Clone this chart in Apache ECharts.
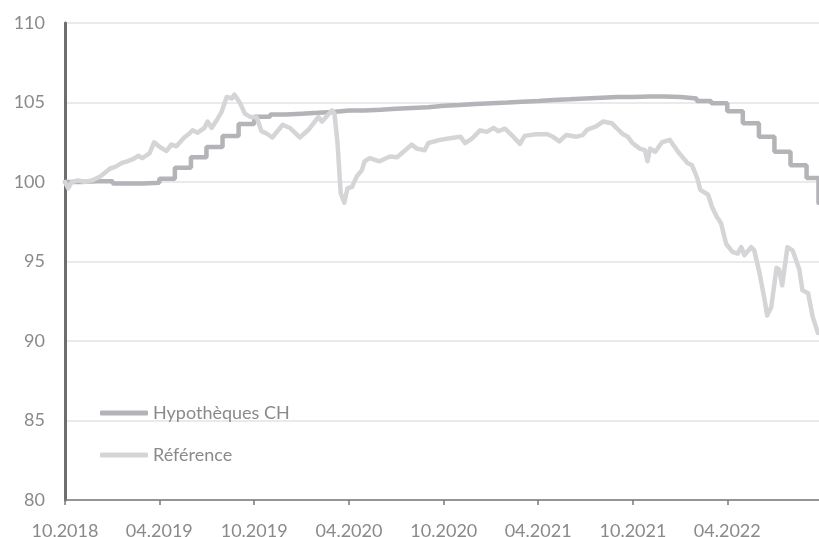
<!DOCTYPE html>
<html>
<head>
<meta charset="utf-8">
<script src="https://cdn.jsdelivr.net/npm/echarts@6/dist/echarts.min.js"></script>
<style>
  html, body { margin: 0; padding: 0; background: #fff; }
  #chart { width: 819px; height: 537px; }
</style>
</head>
<body>
<div id="chart"></div>
<script>
// x axis ticks
const tickDates = ['2018-10-01', '2019-04-01', '2019-10-01', '2020-04-01', '2020-10-01', '2021-04-01', '2021-10-01', '2022-04-01'];
const tickLabels = ['10.2018', '04.2019', '10.2019', '04.2020', '10.2020', '04.2021', '10.2021', '04.2022'];

// Hypothèques CH (monthly, stepped)
const hypDates = [
  '2018-10-01', '2018-11-01', '2018-12-01', '2019-01-01', '2019-02-01', '2019-03-01',
  '2019-04-01', '2019-05-01', '2019-06-01', '2019-07-01', '2019-08-01', '2019-09-01',
  '2019-10-01', '2019-11-01', '2019-12-01', '2020-01-01', '2020-02-01', '2020-03-01',
  '2020-04-01', '2020-05-01', '2020-06-01', '2020-07-01', '2020-08-01', '2020-09-01',
  '2020-10-01', '2020-11-01', '2020-12-01', '2021-01-01', '2021-02-01', '2021-03-01',
  '2021-04-01', '2021-05-01', '2021-06-01', '2021-07-01', '2021-08-01', '2021-09-01',
  '2021-10-01', '2021-11-01', '2021-12-01', '2022-01-01', '2022-02-01', '2022-03-01',
  '2022-04-01', '2022-05-01', '2022-06-01', '2022-07-01', '2022-08-01', '2022-09-01',
  '2022-09-24'
];
const hypValues = [
  100.0, 100.05, 100.05, 99.9, 99.9, 99.95,
  100.2, 100.9, 101.55, 102.2, 102.9, 103.65,
  104.1, 104.25, 104.3, 104.35, 104.4, 104.5,
  104.5, 104.55, 104.6, 104.65, 104.7, 104.8,
  104.85, 104.9, 104.95, 105.0, 105.05, 105.1,
  105.15, 105.2, 105.25, 105.3, 105.35, 105.35,
  105.37, 105.37, 105.35, 105.25, 105.1, 104.95,
  104.45, 103.7, 102.85, 101.9, 101.05, 100.25,
  98.7
];

// Référence
const refDates = [
  '2018-10-01', '2018-10-07', '2018-10-14', '2018-10-26', '2018-11-09', '2018-11-22',
  '2018-12-08', '2018-12-27', '2019-01-06', '2019-01-19', '2019-01-29', '2019-02-10',
  '2019-02-20', '2019-02-27', '2019-03-13', '2019-03-22', '2019-04-02', '2019-04-15',
  '2019-04-24', '2019-05-04', '2019-05-19', '2019-05-29', '2019-06-04', '2019-06-14',
  '2019-06-27', '2019-07-03', '2019-07-11', '2019-07-20', '2019-07-30', '2019-08-09',
  '2019-08-19', '2019-08-24', '2019-09-04', '2019-09-13', '2019-09-23', '2019-10-06',
  '2019-10-15', '2019-10-25', '2019-11-05', '2019-11-25', '2019-12-09', '2019-12-28',
  '2020-01-13', '2020-01-26', '2020-02-02', '2020-02-09', '2020-02-28', '2020-03-04',
  '2020-03-10', '2020-03-16', '2020-03-23', '2020-03-29', '2020-04-07', '2020-04-16',
  '2020-04-26', '2020-05-01', '2020-05-11', '2020-05-30', '2020-06-19', '2020-07-02',
  '2020-07-08', '2020-07-31', '2020-08-10', '2020-08-25', '2020-09-01', '2020-09-24',
  '2020-10-13', '2020-11-02', '2020-11-11', '2020-11-25', '2020-12-10', '2020-12-23',
  '2021-01-05', '2021-01-14', '2021-01-27', '2021-02-12', '2021-02-25', '2021-03-06',
  '2021-03-28', '2021-04-19', '2021-04-29', '2021-05-12', '2021-05-25', '2021-06-14',
  '2021-06-26', '2021-07-05', '2021-07-22', '2021-08-04', '2021-08-21', '2021-08-30',
  '2021-09-12', '2021-09-21', '2021-09-30', '2021-10-14', '2021-10-24', '2021-10-29',
  '2021-11-03', '2021-11-13', '2021-11-26', '2021-12-11', '2021-12-27', '2022-01-14',
  '2022-01-23', '2022-02-02', '2022-02-08', '2022-02-23', '2022-03-03', '2022-03-12',
  '2022-03-20', '2022-03-26', '2022-03-30', '2022-04-11', '2022-04-21', '2022-04-28',
  '2022-05-04', '2022-05-17', '2022-05-23', '2022-06-02', '2022-06-12', '2022-06-17',
  '2022-06-25', '2022-07-05', '2022-07-10', '2022-07-16', '2022-07-26', '2022-08-05',
  '2022-08-18', '2022-08-24', '2022-09-04', '2022-09-13', '2022-09-23'
];
const refValues = [
  100.0, 99.6, 100.0, 100.1, 100.0, 100.1,
  100.35, 100.85, 100.95, 101.2, 101.3, 101.45,
  101.65, 101.5, 101.8, 102.5, 102.2, 101.95,
  102.35, 102.25, 102.8, 103.05, 103.25, 103.1,
  103.4, 103.8, 103.4, 103.85, 104.4, 105.35,
  105.25, 105.5, 104.95, 104.3, 104.1, 104.05,
  103.2, 103.05, 102.8, 103.6, 103.4, 102.8,
  103.25, 103.8, 104.1, 103.8, 104.5, 104.3,
  102.4, 99.3, 98.7, 99.6, 99.7, 100.35,
  100.75, 101.3, 101.5, 101.3, 101.6, 101.55,
  101.7, 102.35, 102.1, 102.0, 102.45, 102.65,
  102.75, 102.85, 102.45, 102.75, 103.25, 103.15,
  103.4, 103.2, 103.35, 102.85, 102.4, 102.9,
  103.0, 103.0, 102.85, 102.55, 102.95, 102.85,
  102.95, 103.3, 103.5, 103.8, 103.7, 103.4,
  103.0, 102.85, 102.45, 102.1, 102.0, 101.3,
  102.1, 101.9, 102.5, 102.65, 101.9, 101.2,
  101.05, 100.25, 99.5, 99.2, 98.4, 97.8,
  97.4, 96.6, 96.1, 95.6, 95.5, 95.9,
  95.4, 95.9, 95.7, 94.3, 92.6, 91.6,
  92.15, 94.6, 94.5, 93.5, 95.9, 95.7,
  94.5, 93.2, 93.0, 91.5, 90.5
];

const textColor = '#8a8a8a';
const fontFamily = 'Lato, "Open Sans", sans-serif';

const toTime = d => +echarts.time.parse(d);
const tickTimes = tickDates.map(toTime);

const chartDom = document.getElementById('chart');
const chart = echarts.init(chartDom, null, { renderer: 'canvas' });

chart.setOption({
  animation: false,
  textStyle: { fontFamily: fontFamily },
  grid: { left: 65, right: 0, top: 23, bottom: 37, outerBoundsMode: 'none' },
  legend: {
    orient: 'vertical',
    left: 100,
    top: 404,
    padding: 0,
    itemWidth: 48,
    itemHeight: 5,
    itemGap: 24,
    icon: 'roundRect',
    textStyle: { color: textColor, fontSize: 18, fontFamily: fontFamily },
    data: ['Hypothèques CH', 'Référence']
  },
  xAxis: {
    type: 'value',
    min: toTime('2018-10-01'),
    max: toTime('2022-09-25'),
    axisLine: { lineStyle: { color: '#7a7a7a', width: 1.5 } },
    axisTick: { show: true, length: 5, lineStyle: { color: '#7a7a7a', width: 1.5 }, customValues: tickTimes },
    axisLabel: {
      color: textColor,
      fontSize: 18,
      margin: 22,
      customValues: tickTimes,
      formatter: function (val) {
        for (let i = 0; i < tickTimes.length; i++) {
          if (Math.abs(tickTimes[i] - val) < 86400000) return tickLabels[i];
        }
        return '';
      }
    },
    splitLine: { show: false }
  },
  yAxis: {
    type: 'value',
    min: 80,
    max: 110,
    interval: 5,
    axisLine: { show: true, lineStyle: { color: '#6e6e6e', width: 3 } },
    axisTick: { show: false },
    axisLabel: { color: textColor, fontSize: 18, margin: 20 },
    splitLine: { lineStyle: { color: '#e3e3e3', width: 1.5 } }
  },
  series: [
    {
      name: 'Hypothèques CH',
      type: 'line',
      step: 'end',
      showSymbol: false,
      symbol: 'none',
      color: '#b4b4b8',
      lineStyle: { width: 4.5, color: '#b4b4b8', cap: 'round' },
      data: hypDates.map((d, i) => [toTime(d), hypValues[i]])
    },
    {
      name: 'Référence',
      type: 'line',
      showSymbol: false,
      symbol: 'none',
      color: '#d5d5d8',
      lineStyle: { width: 4.5, color: '#d5d5d8', cap: 'round', join: 'round' },
      data: refDates.map((d, i) => [toTime(d), refValues[i]])
    }
  ]
});
</script>
</body>
</html>
